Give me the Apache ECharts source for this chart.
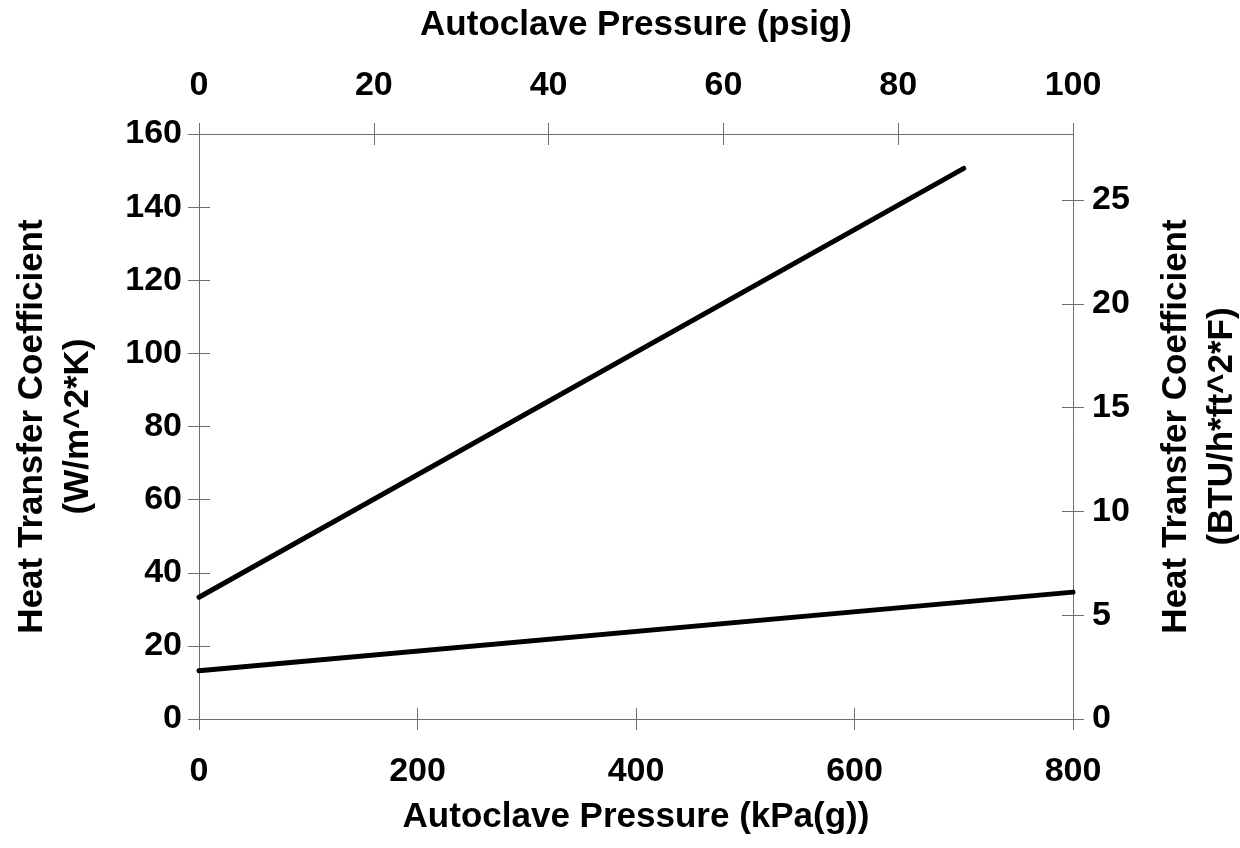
<!DOCTYPE html>
<html>
<head>
<meta charset="utf-8">
<script src="https://cdn.jsdelivr.net/npm/echarts@6/dist/echarts.min.js"></script>
<style>
html,body{margin:0;padding:0;background:#fff;}
#chart{width:1240px;height:848px;}
</style>
</head>
<body>
<div id="chart"></div>
<script>
// Data
const upperPressureKpa = [0, 700];
const upperCoeffW = [33.3, 150.6];
const lowerPressureKpa = [0, 800];
const lowerCoeffW = [13.2, 34.7];

const kpaTicks = [0, 200, 400, 600, 800];
const psigTicks = [0, 20, 40, 60, 80, 100];
const wTicks = [0, 20, 40, 60, 80, 100, 120, 140, 160];
const btuTicks = [0, 5, 10, 15, 20, 25];

const W_PER_BTU = 5.678;   // 1 BTU/h·ft²·°F = 5.678 W/m²·K

const FONT = "'Liberation Sans', Arial, Helvetica, sans-serif";
const AXIS_COLOR = '#6e6e6e';
const LABEL_SIZE = 34;
const NAME_SIZE = 35;
const TICK_LEN = 11;

const labelStyle = { color: '#000', fontFamily: FONT, fontWeight: 'bold', fontSize: LABEL_SIZE };
const nameStyle = { color: '#000', fontFamily: FONT, fontWeight: 'bold', fontSize: NAME_SIZE, lineHeight: 46 };

function outerAxis(extra) {
  return Object.assign({
    type: 'value',
    axisLine: { show: true, onZero: false, lineStyle: { color: AXIS_COLOR, width: 1 } },
    axisTick: { show: true, inside: false, length: TICK_LEN, lineStyle: { color: AXIS_COLOR, width: 1 } },
    splitLine: { show: false }
  }, extra);
}
function innerAxis(extra) {
  return Object.assign({
    type: 'value',
    axisLine: { show: false, onZero: false },
    axisTick: { show: true, inside: true, length: TICK_LEN, lineStyle: { color: AXIS_COLOR, width: 1 } },
    axisLabel: { show: false },
    splitLine: { show: false }
  }, extra);
}

const wMax = wTicks[wTicks.length - 1];
const btuMax = wMax / W_PER_BTU;
const kMin = kpaTicks[0], kMax = kpaTicks[kpaTicks.length - 1];
const pMin = psigTicks[0], pMax = psigTicks[psigTicks.length - 1];

const chart = echarts.init(document.getElementById('chart'), null, { renderer: 'canvas' });
chart.setOption({
  backgroundColor: '#fff',
  animation: false,
  grid: [
    { left: 199, right: 167, top: 134, bottom: 129, containLabel: false, outerBoundsMode: 'none' },
    { left: 199, right: 167, top: 134, bottom: 129, containLabel: false, outerBoundsMode: 'none' }
  ],
  xAxis: [
    outerAxis({
      gridIndex: 0, position: 'bottom', min: kMin, max: kMax, interval: 200,
      axisLabel: Object.assign({ margin: 36 }, labelStyle),
      name: 'Autoclave Pressure (kPa(g))', nameLocation: 'middle', nameGap: 70, nameTextStyle: nameStyle
    }),
    outerAxis({
      gridIndex: 0, position: 'top', min: pMin, max: pMax, interval: 20,
      axisLabel: Object.assign({ margin: 31 }, labelStyle),
      name: 'Autoclave Pressure (psig)', nameLocation: 'middle', nameGap: 86, nameTextStyle: nameStyle
    }),
    innerAxis({ gridIndex: 1, position: 'bottom', min: kMin, max: kMax, interval: 200 }),
    innerAxis({ gridIndex: 1, position: 'top', min: pMin, max: pMax, interval: 20 })
  ],
  yAxis: [
    outerAxis({
      gridIndex: 0, position: 'left', min: wTicks[0], max: wMax, interval: 20,
      axisLabel: Object.assign({ margin: 17 }, labelStyle),
      name: 'Heat Transfer Coefficient\n(W/m^2*K)', nameLocation: 'middle', nameGap: 98, nameRotate: 90,
      nameTextStyle: nameStyle
    }),
    outerAxis({
      gridIndex: 0, position: 'right', min: 0, max: btuMax, interval: 5,
      axisTick: { show: true, inside: false, length: TICK_LEN, customValues: btuTicks, lineStyle: { color: AXIS_COLOR, width: 1 } },
      axisLabel: Object.assign({ margin: 19, customValues: btuTicks }, labelStyle),
      name: 'Heat Transfer Coefficient\n(BTU/h*ft^2*F)', nameLocation: 'middle', nameGap: 80, nameRotate: 90,
      nameTextStyle: nameStyle
    }),
    innerAxis({ gridIndex: 1, position: 'left', min: wTicks[0], max: wMax, interval: 20 }),
    innerAxis({
      gridIndex: 1, position: 'right', min: 0, max: btuMax, interval: 5,
      axisTick: { show: true, inside: true, length: TICK_LEN, customValues: btuTicks, lineStyle: { color: AXIS_COLOR, width: 1 } }
    })
  ],
  series: [
    {
      type: 'line', xAxisIndex: 0, yAxisIndex: 0, showSymbol: false, symbol: 'none',
      data: upperPressureKpa.map((x, i) => [x, upperCoeffW[i]]),
      lineStyle: { color: '#000', width: 5, cap: 'round' }, z: 5
    },
    {
      type: 'line', xAxisIndex: 0, yAxisIndex: 0, showSymbol: false, symbol: 'none',
      data: lowerPressureKpa.map((x, i) => [x, lowerCoeffW[i]]),
      lineStyle: { color: '#000', width: 5, cap: 'round' }, z: 5
    },
    // empty series so the tick-only grid is registered with the library
    { type: 'line', xAxisIndex: 2, yAxisIndex: 2, data: [], silent: true },
    { type: 'line', xAxisIndex: 3, yAxisIndex: 3, data: [], silent: true }
  ]
});
</script>
</body>
</html>
